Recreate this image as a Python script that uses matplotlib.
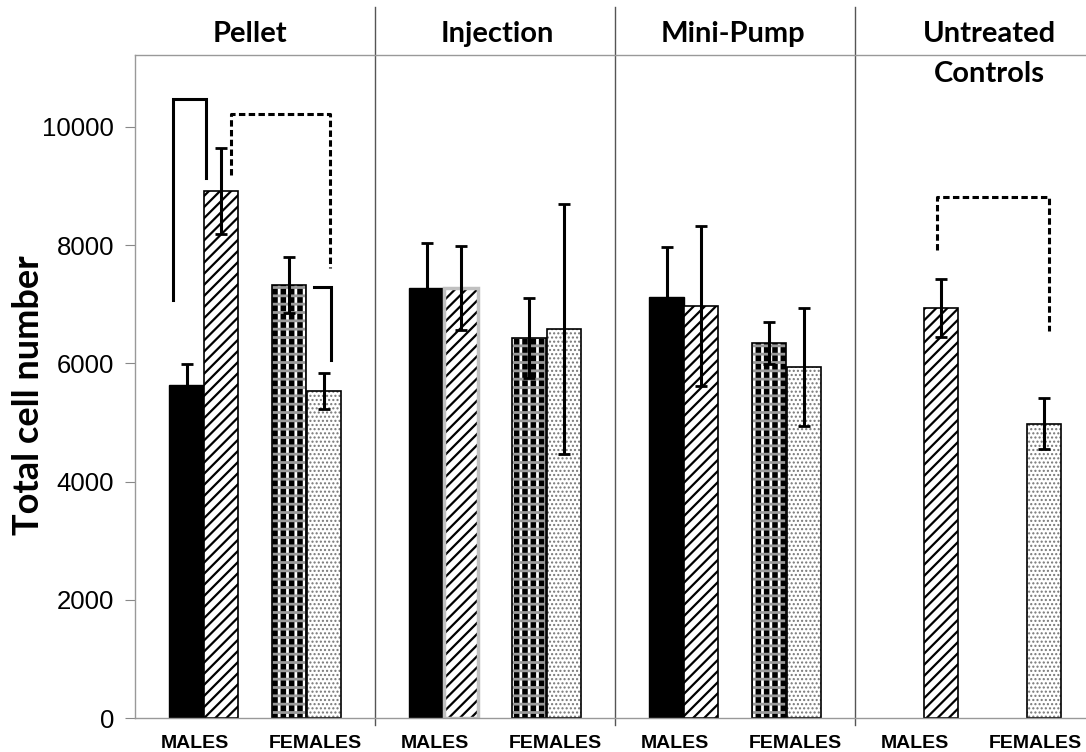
import numpy as np
import matplotlib.pyplot as plt
import matplotlib.transforms as mtransforms

groups = ["Pellet", "Injection", "Mini-Pump", "Untreated\nControls"]
sex_labels = ["MALES", "FEMALES"]

# mean total cell number (+/- error) per treatment group
male_solid = [5630, 7280, 7120, np.nan]
male_solid_err = [360, 760, 850, np.nan]
male_hatch = [8920, 7280, 6970, 6940]
male_hatch_err = [730, 710, 1350, 490]
female_check = [7330, 6430, 6350, np.nan]
female_check_err = [475, 680, 355, np.nan]
female_dot = [5530, 6580, 5940, 4980]
female_dot_err = [305, 2115, 1000, 430]

# significance brackets (x in category units, y in cell number)
bracket_pellet_m = ([0.317, 0.317, 0.592, 0.592], [7070, 10470, 10470, 9140])
bracket_pellet_f = ([1.492, 1.633, 1.633], [7290, 7290, 6060])
bracket_pellet_mf = ([0.80, 0.80, 1.625, 1.625], [9190, 10220, 10220, 7610])
bracket_ctrl = ([6.683, 6.683, 7.617, 7.617], [7920, 8820, 8820, 6550])

plt.rcParams["hatch.linewidth"] = 2.0

fig = plt.figure(figsize=(10.86, 7.52), dpi=100)
ax = fig.add_axes([135 / 1086, 1 - 718 / 752, 960 / 1086, 663 / 752])

grp = np.arange(len(groups)) * 2.0
w = 0.2875
x_solid = grp + 0.5 - 0.07
x_hatch = grp + 0.5 + 0.215
x_check = grp + 1.5 - 0.215
x_dot = grp + 1.5 + 0.075

ax.bar(x_solid, male_solid, w, color="black", edgecolor="black", linewidth=1)
with plt.rc_context({"hatch.linewidth": 1.6}):
    ax.bar(x_hatch, male_hatch, w, color="white", edgecolor="black",
           hatch="///", linewidth=0)

# checker: black base cut by white columns and grey rows
ax.bar(x_check, female_check, w, color="black", edgecolor="white",
       hatch="||", linewidth=0)
ax.bar(x_check, female_check, w, fill=False, edgecolor="#9a9a9a",
       hatch="--", linewidth=0)

with plt.rc_context({"hatch.linewidth": 1.0}):
    ax.bar(x_dot, female_dot, w, color="white", edgecolor="#777777",
           hatch="....", linewidth=0)

# outlines drawn separately so the hatch colour stays independent
hatch_edges = ["black", "#c0c0c0", "black", "black"]
hatch_lw = [1.2, 2.5, 1.2, 1.2]
ax.bar(x_hatch, male_hatch, w, fill=False, edgecolor=hatch_edges,
       linewidth=hatch_lw)
ax.bar(x_check, female_check, w, fill=False, edgecolor="black", linewidth=1.2)
ax.bar(x_dot, female_dot, w, fill=False, edgecolor="black", linewidth=1.2)

for xs, vals, errs in [(x_solid, male_solid, male_solid_err),
                       (x_hatch, male_hatch, male_hatch_err),
                       (x_check, female_check, female_check_err),
                       (x_dot, female_dot, female_dot_err)]:
    ax.errorbar(xs, vals, yerr=errs, fmt="none", ecolor="black",
                elinewidth=2.2, capsize=4, capthick=2)

for bx, by in [bracket_pellet_m, bracket_pellet_f]:
    ax.plot(bx, by, color="black", lw=2.2, solid_joinstyle="miter")
for bx, by in [bracket_pellet_mf, bracket_ctrl]:
    ax.plot(bx, by, color="black", lw=2.2, linestyle=(0, (2.1, 1.1)))

ax.set_xlim(0, 8)
ax.set_ylim(0, 11218)
ax.set_yticks(range(0, 10001, 2000))
ax.set_xticks(np.arange(8) + 0.5)
ax.set_xticklabels(sex_labels * 4, fontsize=14, fontweight="bold",
                   family="Liberation Sans")
ax.tick_params(axis="x", length=0, pad=12)
ax.tick_params(axis="y", direction="out", length=7, color="#888888",
               labelsize=18.5, pad=8)
for lab in ax.get_yticklabels():
    lab.set_family("Liberation Sans")

for side in ["left", "bottom", "top"]:
    ax.spines[side].set_color("#999999")
    ax.spines[side].set_linewidth(1)
ax.spines["right"].set_visible(False)

# vertical separators between treatment groups
trans = mtransforms.blended_transform_factory(ax.transData, ax.transAxes)
for sx in grp[1:]:
    ax.plot([sx, sx], [-0.011, 1.072], color="#555555", lw=1,
            transform=trans, clip_on=False)

title_x = [0.96, 3.02, 4.98, 7.12]
for tx, name in zip(title_x, groups):
    ax.text(tx, 1.052, name, transform=trans, ha="center", va="top",
            fontsize=21, fontweight="bold", family="Lato", linespacing=1.7)

ax.set_ylabel("Total cell number", fontsize=26, fontweight="bold",
              family="Lato", va="center")
ax.yaxis.set_label_coords(-0.111, 0.487)

fig.savefig("out.png", dpi=100)
